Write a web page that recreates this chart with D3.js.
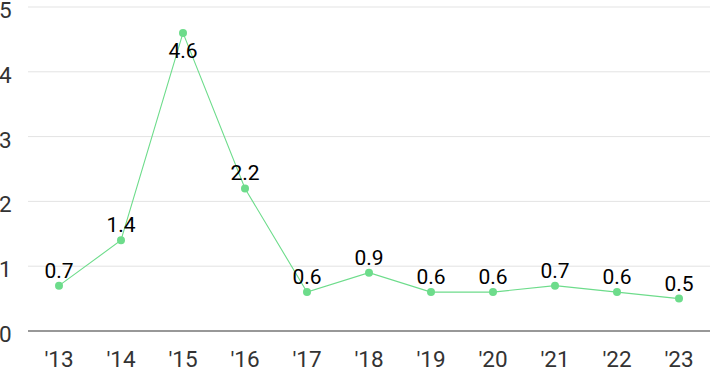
<!DOCTYPE html>
<html>
<head>
<meta charset="utf-8">
<script src="https://cdn.jsdelivr.net/npm/d3@7"></script>
<style>
  body { margin: 0; background: #fff; }
  text { font-family: Roboto, "Noto Sans", sans-serif; }
</style>
</head>
<body>
<svg id="chart" width="710" height="371"></svg>
<script>
// data
var years = ["'13", "'14", "'15", "'16", "'17", "'18", "'19", "'20", "'21", "'22", "'23"];
var values = [0.7, 1.4, 4.6, 2.2, 0.6, 0.9, 0.6, 0.6, 0.7, 0.6, 0.5];
var yTicks = [0, 1, 2, 3, 4, 5];

var svg = d3.select('#chart');
var plotLeft = 28, plotRight = 710, plotTop = 7, plotBottom = 331;

var x = d3.scalePoint()
    .domain(years)
    .range([59, 679]);

var y = d3.scaleLinear()
    .domain([0, 5])
    .range([plotBottom, plotTop]);

// gridlines
svg.append('g')
    .selectAll('line')
    .data(yTicks.filter(function (d) { return d > 0; }))
    .enter().append('line')
    .attr('x1', plotLeft).attr('x2', plotRight)
    .attr('y1', function (d) { return y(d); })
    .attr('y2', function (d) { return y(d); })
    .attr('stroke', '#e3e3e3')
    .attr('stroke-width', 1);

// baseline
svg.append('line')
    .attr('x1', plotLeft).attr('x2', plotRight)
    .attr('y1', y(0)).attr('y2', y(0))
    .attr('stroke', '#333')
    .attr('stroke-width', 1.2);

// y tick labels
svg.append('g')
    .selectAll('text')
    .data(yTicks)
    .enter().append('text')
    .attr('x', -1)
    .attr('y', function (d) { return y(d) + 11; })
    .attr('font-size', 22.5)
    .attr('fill', '#333')
    .text(function (d) { return d; });

// x axis labels
svg.append('g')
    .selectAll('text')
    .data(years)
    .enter().append('text')
    .attr('x', function (d) { return x(d); })
    .attr('y', 367)
    .attr('text-anchor', 'middle')
    .attr('font-size', 22.5)
    .attr('fill', '#333')
    .text(function (d) { return d; });

var line = d3.line()
    .x(function (d, i) { return x(years[i]); })
    .y(function (d) { return y(d); });

svg.append('path')
    .datum(values)
    .attr('d', line)
    .attr('fill', 'none')
    .attr('stroke', '#6ddc8b')
    .attr('stroke-width', 1.1);

svg.append('g')
    .selectAll('circle')
    .data(values)
    .enter().append('circle')
    .attr('cx', function (d, i) { return x(years[i]); })
    .attr('cy', function (d) { return y(d); })
    .attr('r', 4)
    .attr('fill', '#6ddc8b');

// value labels, top one goes below its point
svg.append('g')
    .selectAll('text')
    .data(values)
    .enter().append('text')
    .attr('x', function (d, i) { return x(years[i]); })
    .attr('y', function (d) { return d > 4 ? y(d) + 25 : y(d) - 8; })
    .attr('text-anchor', 'middle')
    .attr('font-size', 21)
    .attr('fill', '#000')
    .text(function (d) { return d; });
</script>
</body>
</html>
